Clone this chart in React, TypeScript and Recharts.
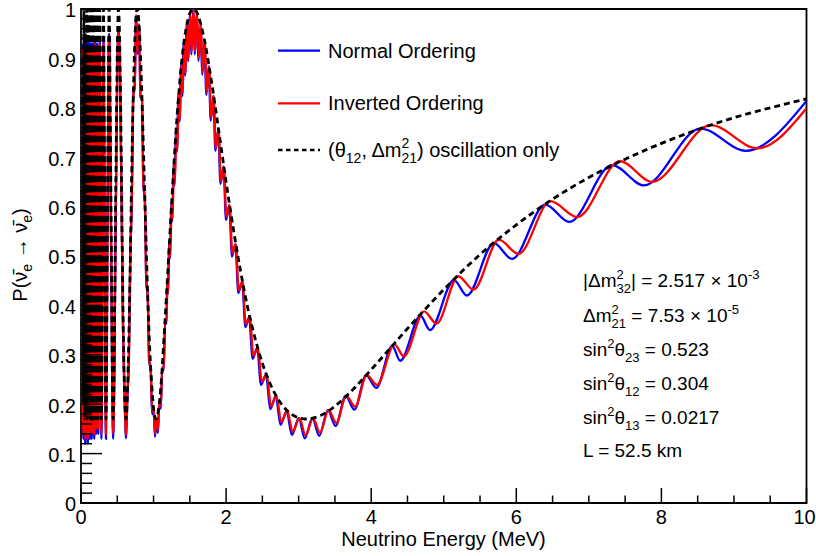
import React from "react"
import { LineChart, Line, XAxis, YAxis, ReferenceArea } from "recharts"

const FONT = '"Liberation Sans", Arial, Helvetica, sans-serif'

// [energy (MeV), survival probability]
const solarOnly: [number, number][] = [
  [0.02, 0.9], [0.03, 0.2], [0.04, 1], [0.05, 0.17], [0.06, 0.95], [0.07, 0.2], [0.08, 1], [0.09, 0.17],
  [0.1, 0.98], [0.11, 0.18], [0.12, 1], [0.13, 0.17], [0.14, 1], [0.1476, 0.17], [0.155, 1], [0.1632, 0.17],
  [0.1722, 1], [0.1824, 0.17], [0.1938, 1], [0.2067, 0.17],
  [0.2214, 1], [0.2385, 0.17], [0.2583, 1], [0.2818, 0.17], [0.31, 1], [0.325, 0.637], [0.3444, 0.17], [0.365, 0.593],
  [0.3875, 1], [0.41, 0.665], [0.4429, 0.17], [0.48, 0.645], [0.5, 0.914], [0.5167, 1], [0.54, 0.877], [0.56, 0.635],
  [0.58, 0.381], [0.6, 0.225], [0.62, 0.17], [0.65, 0.275], [0.675, 0.448], [0.7, 0.68], [0.725, 0.849], [0.75, 0.964],
  [0.775, 1], [0.8, 0.969], [0.82, 0.907], [0.85, 0.77], [0.87, 0.668], [0.9, 0.513], [0.92, 0.418], [0.95, 0.303],
  [0.97, 0.251], [1.0, 0.192], [1.033, 0.17], [1.07, 0.191], [1.1, 0.234], [1.15, 0.349], [1.2, 0.477], [1.25, 0.609],
  [1.3, 0.731], [1.35, 0.832], [1.4, 0.91], [1.45, 0.962], [1.5, 0.991], [1.55, 1], [1.6, 0.992], [1.7, 0.938],
  [1.8, 0.852], [1.9, 0.752], [2.0, 0.65], [2.1, 0.555], [2.2, 0.469], [2.3, 0.394], [2.4, 0.333], [2.5, 0.283],
  [2.6, 0.244], [2.75, 0.203], [2.9, 0.18], [3.1, 0.17], [3.3, 0.177], [3.5, 0.196], [3.75, 0.23], [4.0, 0.27],
  [4.5, 0.353], [5.0, 0.432], [5.5, 0.503], [6.0, 0.563], [6.5, 0.615], [7.0, 0.659], [7.5, 0.696], [8.0, 0.728],
  [8.5, 0.756], [9.0, 0.78], [9.5, 0.8], [10, 0.818],
]

const invertedOrdering: [number, number][] = [
  [0.022, 0.91], [0.026, 0.15], [0.03, 0.92], [0.034, 0.14], [0.038, 0.91], [0.042, 0.15], [0.046, 0.92], [0.05, 0.14],
  [0.054, 0.92], [0.058, 0.13], [0.062, 0.91], [0.066, 0.15], [0.07, 0.92], [0.074, 0.14], [0.0775, 0.92], [0.0795, 0.14],
  [0.0816, 0.91], [0.0838, 0.15], [0.0861, 0.92], [0.0886, 0.14], [0.0911, 0.92], [0.094, 0.13], [0.0969, 0.91], [0.1, 0.14],
  [0.1033, 0.92], [0.1069, 0.15], [0.1107, 0.92], [0.1148, 0.14], [0.1192, 0.92], [0.124, 0.14], [0.1292, 0.92], [0.1348, 0.15],
  [0.1409, 0.92], [0.1476, 0.14], [0.155, 0.92], [0.1632, 0.15], [0.1722, 0.92], [0.1824, 0.14], [0.1938, 0.93], [0.2067, 0.15],
  [0.2214, 0.92], [0.2385, 0.15], [0.2583, 0.93], [0.2818, 0.14], [0.31, 0.93], [0.325, 0.6], [0.344, 0.14], [0.365, 0.56],
  [0.3875, 0.94], [0.41, 0.62], [0.443, 0.14], [0.48, 0.6], [0.5, 0.87], [0.517, 0.955], [0.54, 0.84], [0.56, 0.6],
  [0.58, 0.35], [0.6, 0.225], [0.62, 0.137], [0.64, 0.219], [0.66, 0.296], [0.68, 0.508], [0.7, 0.611], [0.72, 0.823],
  [0.74, 0.847], [0.76, 0.987], [0.78, 0.915], [0.8, 0.969], [0.82, 0.827], [0.84, 0.819], [0.86, 0.648], [0.88, 0.615],
  [0.9, 0.453], [0.92, 0.418], [0.94, 0.291], [0.96, 0.273], [0.98, 0.186], [1.0, 0.192], [1.02, 0.14], [1.04, 0.17],
  [1.06, 0.148], [1.08, 0.204], [1.1, 0.197], [1.12, 0.275], [1.14, 0.274], [1.16, 0.371], [1.18, 0.369], [1.191, 0.452],
  [1.203, 0.428], [1.219, 0.529], [1.232, 0.501], [1.249, 0.608], [1.263, 0.576], [1.28, 0.685], [1.295, 0.649], [1.313, 0.76],
  [1.328, 0.717], [1.347, 0.828], [1.364, 0.778], [1.384, 0.887], [1.401, 0.83], [1.422, 0.935], [1.44, 0.871], [1.463, 0.971],
  [1.482, 0.9], [1.506, 0.993], [1.526, 0.914], [1.552, 1.0], [1.573, 0.914], [1.6, 0.992], [1.623, 0.901], [1.652, 0.969],
  [1.676, 0.873], [1.707, 0.933], [1.733, 0.832], [1.766, 0.884], [1.793, 0.78], [1.829, 0.824], [1.858, 0.719], [1.896, 0.756],
  [1.928, 0.652], [1.969, 0.681], [2.004, 0.579], [2.048, 0.603], [2.086, 0.505], [2.133, 0.524], [2.174, 0.431], [2.226, 0.448],
  [2.271, 0.362], [2.327, 0.376], [2.376, 0.298], [2.438, 0.314], [2.492, 0.245], [2.56, 0.26], [2.619, 0.196], [2.695, 0.217],
  [2.76, 0.164], [2.844, 0.186], [2.917, 0.144], [3.012, 0.172], [3.094, 0.137], [3.2, 0.172], [3.293, 0.142], [3.413, 0.188],
  [3.519, 0.162], [3.657, 0.217], [3.779, 0.195], [3.939, 0.259], [4.08, 0.239], [4.32, 0.321], [4.45, 0.297], [4.73, 0.388],
  [4.9, 0.363], [5.2, 0.459], [5.41, 0.432], [5.76, 0.533], [6.03, 0.504], [6.47, 0.611], [6.84, 0.579], [7.43, 0.692],
  [7.87, 0.65], [8.68, 0.765], [9.32, 0.718], [10, 0.799],
]

const normalOrdering: [number, number][] = [
  [0.022, 0.92], [0.026, 0.14], [0.03, 0.93], [0.034, 0.13], [0.038, 0.92], [0.042, 0.14], [0.046, 0.93], [0.05, 0.13],
  [0.054, 0.93], [0.058, 0.12], [0.062, 0.92], [0.066, 0.14], [0.07, 0.93], [0.074, 0.13], [0.0775, 0.93], [0.0795, 0.13],
  [0.0816, 0.92], [0.0838, 0.14], [0.0861, 0.93], [0.0886, 0.13], [0.0911, 0.93], [0.094, 0.12], [0.0969, 0.92], [0.1, 0.13],
  [0.1033, 0.93], [0.1069, 0.14], [0.1107, 0.93], [0.1148, 0.13], [0.1192, 0.93], [0.124, 0.13], [0.1292, 0.93], [0.1348, 0.14],
  [0.1409, 0.93], [0.1476, 0.13], [0.155, 0.93], [0.1632, 0.14], [0.1722, 0.93], [0.1824, 0.13], [0.1938, 0.94], [0.2067, 0.14],
  [0.2214, 0.93], [0.2385, 0.14], [0.2583, 0.94], [0.2818, 0.13], [0.31, 0.94], [0.325, 0.6], [0.344, 0.13], [0.365, 0.56],
  [0.3875, 0.95], [0.41, 0.62], [0.443, 0.13], [0.48, 0.6], [0.5, 0.88], [0.517, 0.96], [0.54, 0.85], [0.56, 0.6],
  [0.58, 0.35], [0.6, 0.225], [0.62, 0.131], [0.64, 0.219], [0.66, 0.29], [0.68, 0.508], [0.7, 0.605], [0.72, 0.823],
  [0.74, 0.841], [0.76, 0.987], [0.78, 0.909], [0.8, 0.969], [0.82, 0.821], [0.84, 0.819], [0.86, 0.642], [0.88, 0.615],
  [0.9, 0.447], [0.92, 0.418], [0.94, 0.285], [0.96, 0.273], [0.98, 0.18], [1.0, 0.192], [1.02, 0.134], [1.04, 0.17],
  [1.06, 0.142], [1.08, 0.204], [1.1, 0.191], [1.12, 0.275], [1.14, 0.268], [1.16, 0.371], [1.18, 0.363], [1.186, 0.452],
  [1.198, 0.422], [1.214, 0.529], [1.227, 0.495], [1.244, 0.608], [1.258, 0.57], [1.275, 0.685], [1.29, 0.643], [1.308, 0.76],
  [1.323, 0.711], [1.342, 0.828], [1.359, 0.772], [1.379, 0.887], [1.396, 0.824], [1.417, 0.935], [1.435, 0.865], [1.458, 0.971],
  [1.477, 0.894], [1.501, 0.993], [1.521, 0.908], [1.547, 1.0], [1.568, 0.908], [1.595, 0.992], [1.618, 0.895], [1.647, 0.969],
  [1.671, 0.867], [1.702, 0.933], [1.728, 0.826], [1.761, 0.884], [1.788, 0.774], [1.824, 0.824], [1.853, 0.713], [1.891, 0.756],
  [1.923, 0.646], [1.964, 0.681], [1.999, 0.573], [2.043, 0.603], [2.081, 0.499], [2.128, 0.524], [2.169, 0.425], [2.221, 0.448],
  [2.266, 0.356], [2.317, 0.376], [2.366, 0.292], [2.428, 0.314], [2.482, 0.239], [2.55, 0.26], [2.609, 0.19], [2.685, 0.217],
  [2.75, 0.158], [2.834, 0.186], [2.907, 0.138], [3.002, 0.172], [3.084, 0.131], [3.19, 0.172], [3.283, 0.136], [3.403, 0.188],
  [3.509, 0.156], [3.647, 0.217], [3.769, 0.189], [3.929, 0.259], [4.07, 0.233], [4.29, 0.318], [4.4, 0.288], [4.68, 0.379],
  [4.81, 0.35], [5.14, 0.451], [5.32, 0.42], [5.69, 0.526], [5.94, 0.494], [6.4, 0.604], [6.73, 0.569], [7.32, 0.684],
  [7.76, 0.643], [8.54, 0.758], [9.16, 0.713], [10, 0.814],
]

const xTicks = [0, 0.5, 1, 1.5, 2, 2.5, 3, 3.5, 4, 4.5, 5, 5.5, 6, 6.5, 7, 7.5, 8, 8.5, 9, 9.5, 10]
const xLabels = [0, 2, 4, 6, 8, 10]
const yTicks = [
  0, 0.02, 0.04, 0.06, 0.08, 0.1, 0.12, 0.14, 0.16, 0.18, 0.2, 0.22, 0.24, 0.26, 0.28, 0.3, 0.32, 0.34,
  0.36, 0.38, 0.4, 0.42, 0.44, 0.46, 0.48, 0.5, 0.52, 0.54, 0.56, 0.58, 0.6, 0.62, 0.64, 0.66, 0.68, 0.7,
  0.72, 0.74, 0.76, 0.78, 0.8, 0.82, 0.84, 0.86, 0.88, 0.9, 0.92, 0.94, 0.96, 0.98, 1,
]
const yLabels = [0, 0.1, 0.2, 0.3, 0.4, 0.5, 0.6, 0.7, 0.8, 0.9, 1]

const toPoints = (pts: [number, number][]) => pts.map(([e, p]) => ({ e, p }))

function XTick(props: any) {
  const { x, y, payload } = props
  const v = payload.value
  const major = xLabels.includes(v)
  // last label sits on the page edge, nudge it in a little
  const lx = v === 10 ? x - 2 : x
  return (
    <g>
      <line x1={x} x2={x} y1={y} y2={y - (major ? 15 : 7.5)} stroke="#000" strokeWidth={1.5} />
      {major && (
        <text x={lx} y={y + 21} textAnchor="middle" fontSize={20} fontFamily={FONT} fill="#000">
          {v}
        </text>
      )}
    </g>
  )
}

function YTick(props: any) {
  const { x, y, payload } = props
  const v = payload.value
  const major = yLabels.some((m) => Math.abs(m - v) < 1e-6)
  const label = v === 0 ? "0" : v === 1 ? "1" : v.toFixed(1)
  return (
    <g>
      <line x1={x} x2={x + (major ? 21 : 11)} y1={y} y2={y} stroke="#000" strokeWidth={1.5} />
      {major && (
        <text x={x - 5} y={y} dy="0.42em" textAnchor="end" fontSize={20} fontFamily={FONT} fill="#000">
          {label}
        </text>
      )}
    </g>
  )
}

export default function App() {
  return (
    <div style={{ position: "absolute", left: 0, top: 0, width: 816, height: 556, background: "#fff" }}>
      <LineChart width={816} height={556} margin={{ top: 9, right: 9.5, bottom: 0, left: 0 }}>
        <XAxis
          type="number"
          dataKey="e"
          domain={[0, 10]}
          ticks={xTicks}
          interval={0}
          height={53}
          tickSize={0}
          tickMargin={0}
          tickLine={false}
          axisLine={false}
          tick={<XTick />}
          allowDataOverflow
        />
        <YAxis
          type="number"
          domain={[0, 1]}
          ticks={yTicks}
          interval={0}
          width={81}
          tickSize={0}
          tickMargin={0}
          tickLine={false}
          axisLine={false}
          tick={<YTick />}
          allowDataOverflow
        />
        <ReferenceArea x1={0} x2={10} y1={0} y2={1} fill="none" stroke="#000" strokeWidth={1.8} ifOverflow="visible" />
        <Line data={toPoints(normalOrdering)} dataKey="p" type="monotone" stroke="#0000ff" strokeWidth={2.3} dot={false} isAnimationActive={false} />
        <Line data={toPoints(invertedOrdering)} dataKey="p" type="monotone" stroke="#ff0000" strokeWidth={2.3} dot={false} isAnimationActive={false} />
        <Line data={toPoints(solarOnly)} dataKey="p" type="monotone" stroke="#000" strokeWidth={2.8} strokeDasharray="6 4" dot={false} isAnimationActive={false} />
      </LineChart>

      <svg width={816} height={556} style={{ position: "absolute", left: 0, top: 0, pointerEvents: "none" }} fontFamily={FONT} fill="#000">
        {/* legend */}
        <line x1={278} x2={320} y1={50.7} y2={50.7} stroke="#0000ff" strokeWidth={2.3} />
        <text x={328} y={58.3} fontSize={20}>Normal Ordering</text>
        <line x1={278} x2={320} y1={103.3} y2={103.3} stroke="#ff0000" strokeWidth={2.3} />
        <text x={328} y={110} fontSize={20}>Inverted Ordering</text>
        <line x1={278} x2={320} y1={150} y2={150} stroke="#000" strokeWidth={2.6} strokeDasharray="4.5 3.5" />
        <text x={328} y={157} fontSize={20}>
          (θ<tspan dy={6} fontSize={14}>12</tspan>
          <tspan dy={-6}>, Δm</tspan>
          <tspan dy={-9} fontSize={14}>2</tspan>
          <tspan dx={-7.8} dy={15} fontSize={14}>21</tspan>
          <tspan dy={-6}>) oscillation only</tspan>
        </text>

        {/* oscillation parameters */}
        <g fontSize={19}>
          <text x={583} y={287.3}>
            |Δm<tspan dy={-8} fontSize={13}>2</tspan>
            <tspan dx={-7.2} dy={14} fontSize={13}>32</tspan>
            <tspan dy={-6}>| = 2.517 × 10</tspan>
            <tspan dy={-8} fontSize={13}>-3</tspan>
          </text>
          <text x={583} y={321.7}>
            Δm<tspan dy={-8} fontSize={13}>2</tspan>
            <tspan dx={-7.2} dy={14} fontSize={13}>21</tspan>
            <tspan dy={-6}> = 7.53 × 10</tspan>
            <tspan dy={-8} fontSize={13}>-5</tspan>
          </text>
          <text x={583} y={356}>
            sin<tspan dy={-8} fontSize={13}>2</tspan>
            <tspan dy={8}>θ</tspan>
            <tspan dy={6} fontSize={13}>23</tspan>
            <tspan dy={-6}> = 0.523</tspan>
          </text>
          <text x={583} y={390}>
            sin<tspan dy={-8} fontSize={13}>2</tspan>
            <tspan dy={8}>θ</tspan>
            <tspan dy={6} fontSize={13}>12</tspan>
            <tspan dy={-6}> = 0.304</tspan>
          </text>
          <text x={583} y={424}>
            sin<tspan dy={-8} fontSize={13}>2</tspan>
            <tspan dy={8}>θ</tspan>
            <tspan dy={6} fontSize={13}>13</tspan>
            <tspan dy={-6}> = 0.0217</tspan>
          </text>
          <text x={583} y={457.3}>L = 52.5 km</text>
        </g>

        {/* axis titles */}
        <text x={443.5} y={545.5} fontSize={20} textAnchor="middle">Neutrino Energy (MeV)</text>
        <text transform="translate(27,255) rotate(-90)" fontSize={20} textAnchor="middle">
          P(ν̄<tspan dy={5} fontSize={14}>e</tspan>
          <tspan dy={-5}> → ν̄</tspan>
          <tspan dy={5} fontSize={14}>e</tspan>
          <tspan dy={-5}>)</tspan>
        </text>
      </svg>
    </div>
  )
}
